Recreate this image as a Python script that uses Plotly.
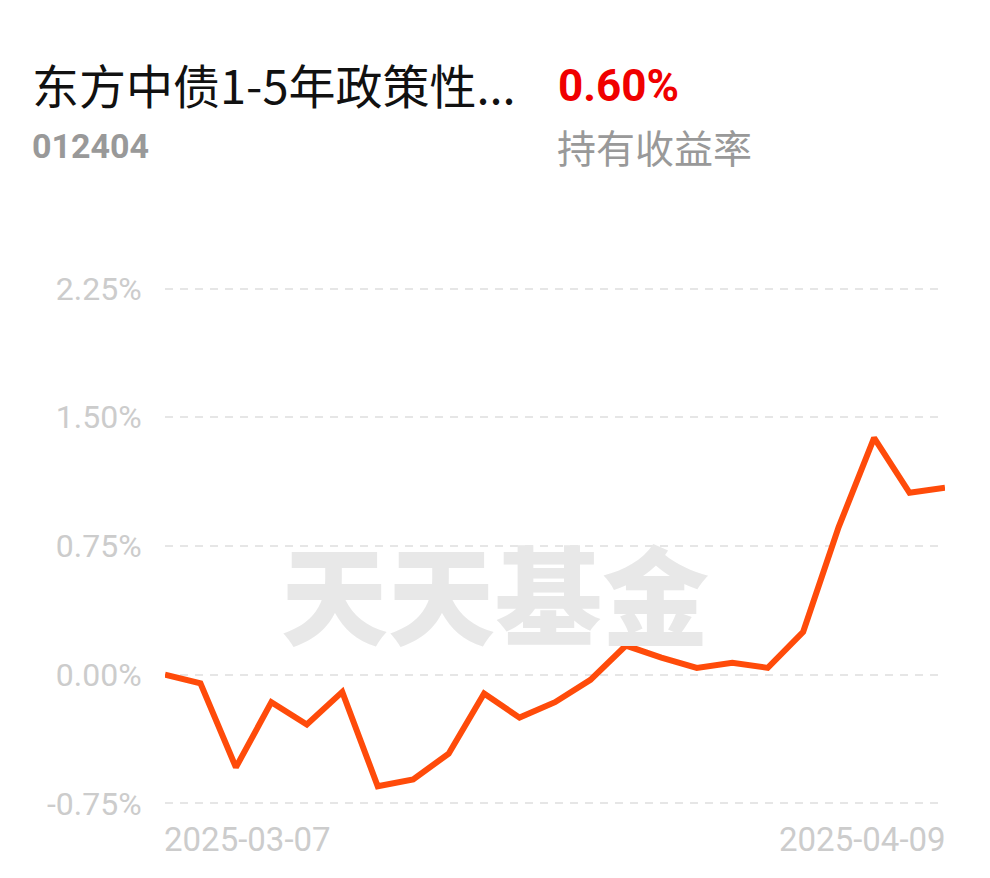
import plotly.graph_objects as go

# ---- data ----
dates = ["2025-03-07", "2025-03-10", "2025-03-11", "2025-03-12", "2025-03-13", "2025-03-14",
         "2025-03-17", "2025-03-18", "2025-03-19", "2025-03-20", "2025-03-21",
         "2025-03-24", "2025-03-25", "2025-03-26", "2025-03-27", "2025-03-28",
         "2025-03-31", "2025-04-01", "2025-04-02", "2025-04-03",
         "2025-04-07", "2025-04-08", "2025-04-09"]
returns = [0.00, -0.05, -0.54, -0.16, -0.29, -0.10, -0.65, -0.61, -0.46, -0.11, -0.25,
           -0.16, -0.03, 0.17, 0.10, 0.04, 0.07, 0.04, 0.25, 0.86, 1.38, 1.06, 1.09]
ytick_vals = [-0.75, 0.0, 0.75, 1.50, 2.25]
ytick_text = ["-0.75%", "0.00%", "0.75%", "1.50%", "2.25%"]
fund_name = "东方中债1-5年政策性..."
fund_code = "012404"
hold_return = "0.60%"
hold_label = "持有收益率"
watermark = "天天基金"

# ---- layout geometry (screen pixels; page body has an 8px margin) ----
OFF = 8
W, H = 990, 878
L = 165 - OFF
T = 280 - OFF
PR = 945 - OFF          # plot right edge in figure px
PB = 812 - OFF          # plot bottom edge in figure px
R = W - PR
B = H - PB
PW, PH = PR - L, PB - T


def px(xp):
    return (xp - OFF - L) / PW


def py(yp):
    return 1 - (yp - OFF - T) / PH


fig = go.Figure()
fig.add_trace(go.Scatter(
    x=dates, y=returns, mode="lines",
    line=dict(color="#ff4b0a", width=6),
    cliponaxis=False, hoverinfo="skip",
))

grid_color = "#e6e6e6"
fig.update_layout(
    width=W, height=H,
    margin=dict(l=L, r=R, t=T, b=B),
    paper_bgcolor="white", plot_bgcolor="white",
    showlegend=False,
    xaxis=dict(type="category", range=[0, len(dates) - 1], showgrid=False,
               showticklabels=False, zeroline=False, showline=False, ticks=""),
    yaxis=dict(range=[-0.80, 2.30], tickvals=ytick_vals, ticktext=ytick_text,
               showgrid=True, gridcolor=grid_color, gridwidth=2, griddash="8px,7px",
               zeroline=False, showline=False,
               ticks="outside", ticklen=16, tickcolor="rgba(0,0,0,0)",
               tickfont=dict(family="Roboto", size=32, color="#cccccc")),
    font=dict(family="Roboto"),
)

ann = []
# watermark
ann.append(dict(text=watermark, xref="paper", yref="paper", x=px(495), y=py(590),
                xanchor="center", yanchor="middle", showarrow=False,
                font=dict(family="Noto Sans CJK SC", size=107, color="#e8e8e8", weight=900)))
# date labels
ann.append(dict(text=dates[0], xref="x", yref="paper", x=dates[0], y=0,
                xanchor="left", yanchor="top", yshift=-6, xshift=-3, showarrow=False,
                font=dict(family="Roboto", size=33, color="#cccccc")))
ann.append(dict(text=dates[-1], xref="x", yref="paper", x=dates[-1], y=0,
                xanchor="right", yanchor="top", yshift=-6, xshift=3, showarrow=False,
                font=dict(family="Roboto", size=33, color="#cccccc")))
# header
ann.append(dict(text=fund_name, xref="paper", yref="paper", x=px(30), y=py(84),
                xanchor="left", yanchor="middle", showarrow=False,
                font=dict(family="Noto Sans CJK SC", size=47, color="#111111")))
ann.append(dict(text="<b>" + hold_return + "</b>", xref="paper", yref="paper", x=px(556), y=py(86),
                xanchor="left", yanchor="middle", showarrow=False,
                font=dict(family="Roboto", size=44, color="#f00000")))
ann.append(dict(text="<b>" + fund_code + "</b>", xref="paper", yref="paper", x=px(30), y=py(146),
                xanchor="left", yanchor="middle", showarrow=False,
                font=dict(family="Roboto", size=34, color="#999999")))
ann.append(dict(text=hold_label, xref="paper", yref="paper", x=px(555), y=py(146),
                xanchor="left", yanchor="middle", showarrow=False,
                font=dict(family="Noto Sans CJK SC", size=39, color="#999999")))
fig.update_layout(annotations=ann)

fig.write_html("out.html")
